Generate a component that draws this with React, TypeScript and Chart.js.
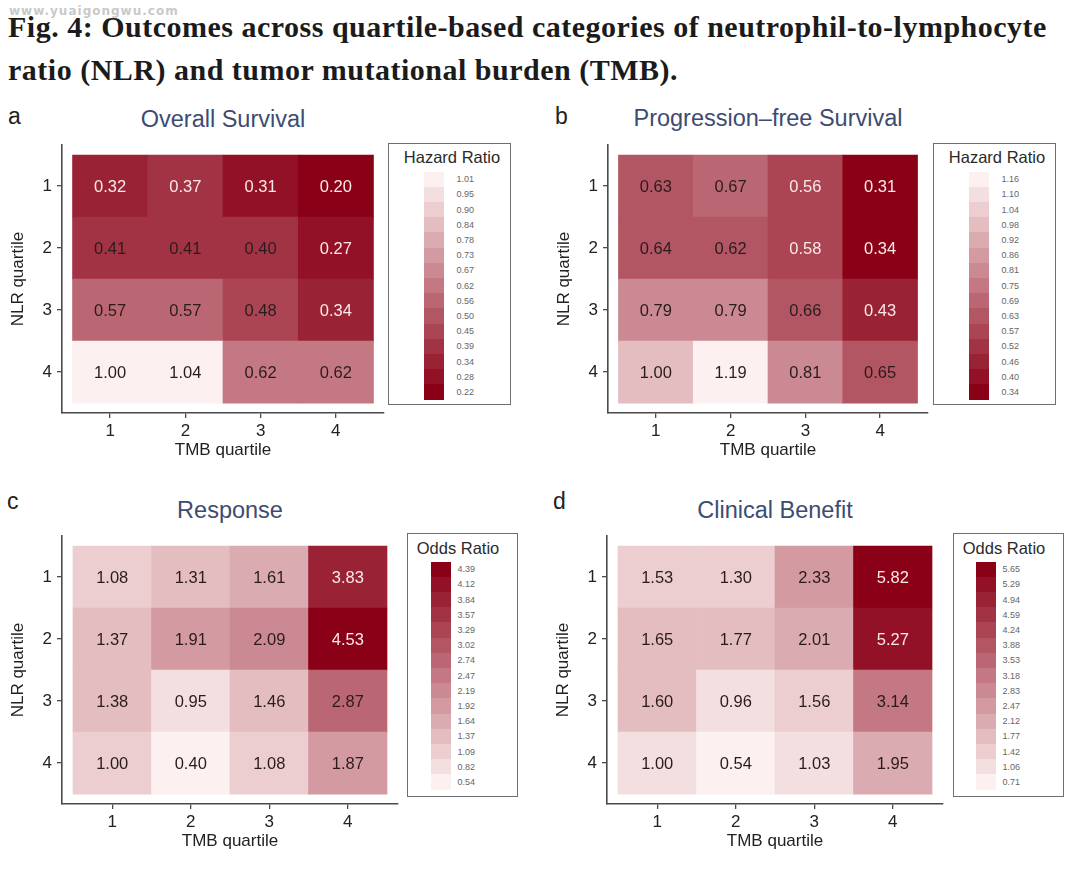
import React, { useEffect, useRef } from "react";
import { Chart, registerables } from "chart.js";

Chart.register(...registerables);

// ---------- data ----------
const TMB_QUARTILES = [1, 2, 3, 4];
const NLR_QUARTILES = [1, 2, 3, 4];

// rows = NLR quartile 1..4, columns = TMB quartile 1..4
const OS_HR = [
  [0.32, 0.37, 0.31, 0.2],
  [0.41, 0.41, 0.4, 0.27],
  [0.57, 0.57, 0.48, 0.34],
  [1.0, 1.04, 0.62, 0.62],
];
const PFS_HR = [
  [0.63, 0.67, 0.56, 0.31],
  [0.64, 0.62, 0.58, 0.34],
  [0.79, 0.79, 0.66, 0.43],
  [1.0, 1.19, 0.81, 0.65],
];
const RESPONSE_OR = [
  [1.08, 1.31, 1.61, 3.83],
  [1.37, 1.91, 2.09, 4.53],
  [1.38, 0.95, 1.46, 2.87],
  [1.0, 0.4, 1.08, 1.87],
];
const BENEFIT_OR = [
  [1.53, 1.3, 2.33, 5.82],
  [1.65, 1.77, 2.01, 5.27],
  [1.6, 0.96, 1.56, 3.14],
  [1.0, 0.54, 1.03, 1.95],
];

const OS_LEGEND = ["1.01", "0.95", "0.90", "0.84", "0.78", "0.73", "0.67", "0.62", "0.56", "0.50", "0.45", "0.39", "0.34", "0.28", "0.22"];
const PFS_LEGEND = ["1.16", "1.10", "1.04", "0.98", "0.92", "0.86", "0.81", "0.75", "0.69", "0.63", "0.57", "0.52", "0.46", "0.40", "0.34"];
const RESPONSE_LEGEND = ["4.39", "4.12", "3.84", "3.57", "3.29", "3.02", "2.74", "2.47", "2.19", "1.92", "1.64", "1.37", "1.09", "0.82", "0.54"];
const BENEFIT_LEGEND = ["5.65", "5.29", "4.94", "4.59", "4.24", "3.88", "3.53", "3.18", "2.83", "2.47", "2.12", "1.77", "1.42", "1.06", "0.71"];

// which cell labels are printed in light text
const OS_LIGHT = [[1, 1, 1, 1], [0, 0, 0, 1], [0, 0, 0, 1], [0, 0, 0, 0]];
const PFS_LIGHT = [[0, 0, 1, 1], [0, 0, 1, 1], [0, 0, 0, 1], [0, 0, 0, 0]];
const RESPONSE_LIGHT = [[0, 0, 0, 1], [0, 0, 0, 1], [0, 0, 0, 0], [0, 0, 0, 0]];
const BENEFIT_LIGHT = [[0, 0, 0, 1], [0, 0, 0, 1], [0, 0, 0, 0], [0, 0, 0, 0]];

// ---------- style ----------
const SANS = "'Liberation Sans', Arial, Helvetica, sans-serif";
const SERIF = "'Liberation Serif', 'DejaVu Serif', serif";
const LIGHT_RGB = [252, 240, 240];
const DARK_RGB = [138, 0, 22];
const N_BINS = 15;

function ramp(t: number) {
  const c = LIGHT_RGB.map((l, i) => Math.round(l + (DARK_RGB[i] - l) * t));
  return `rgb(${c[0]},${c[1]},${c[2]})`;
}

function cellColor(v: number, min: number, max: number, lowIsDark: boolean) {
  const t = lowIsDark ? (max - v) / (max - min) : (v - min) / (max - min);
  const idx = Math.min(N_BINS - 1, Math.floor(t * N_BINS));
  return ramp(idx / (N_BINS - 1));
}

type Panel = {
  letter: string;
  title: string;
  values: number[][];
  light: number[][];
  lowIsDark: boolean;
  legendTitle: string;
  legendLabels: string[];
  plot: { l: number; t: number; r: number; b: number };
  titleX: number;
  titleY: number;
  letterX: number;
  letterTop: number;
  legend: { l: number; t: number; w: number; h: number; titleX: number; titleY: number; barX: number; barTop: number; barH: number; labelX: number };
};

const PANELS: Panel[] = [
  {
    letter: "a", title: "Overall Survival", values: OS_HR, light: OS_LIGHT, lowIsDark: true,
    legendTitle: "Hazard Ratio", legendLabels: OS_LEGEND,
    plot: { l: 62, t: 138, r: 384, b: 413 }, titleX: 223, titleY: 120, letterX: 8, letterTop: 105,
    legend: { l: 388, t: 143, w: 123, h: 262, titleX: 63, titleY: 13, barX: 36, barTop: 29, barH: 228, labelX: 69 },
  },
  {
    letter: "b", title: "Progression\u2013free Survival", values: PFS_HR, light: PFS_LIGHT, lowIsDark: true,
    legendTitle: "Hazard Ratio", legendLabels: PFS_LEGEND,
    plot: { l: 608, t: 138, r: 928, b: 413 }, titleX: 768, titleY: 119, letterX: 555, letterTop: 105,
    legend: { l: 933, t: 143, w: 123, h: 262, titleX: 63, titleY: 13, barX: 36, barTop: 29, barH: 228, labelX: 69 },
  },
  {
    letter: "c", title: "Response", values: RESPONSE_OR, light: RESPONSE_LIGHT, lowIsDark: false,
    legendTitle: "Odds Ratio", legendLabels: RESPONSE_LEGEND,
    plot: { l: 62, t: 529, r: 398, b: 804 }, titleX: 230, titleY: 511, letterX: 7, letterTop: 490,
    legend: { l: 407, t: 533, w: 111, h: 264, titleX: 50, titleY: 14, barX: 24, barTop: 29, barH: 228, labelX: 51 },
  },
  {
    letter: "d", title: "Clinical Benefit", values: BENEFIT_OR, light: BENEFIT_LIGHT, lowIsDark: false,
    legendTitle: "Odds Ratio", legendLabels: BENEFIT_LEGEND,
    plot: { l: 607, t: 529, r: 943, b: 804 }, titleX: 775, titleY: 511, letterX: 553, letterTop: 490,
    legend: { l: 953, t: 533, w: 111, h: 264, titleX: 50, titleY: 14, barX: 23, barTop: 29, barH: 228, labelX: 50 },
  },
];

const PAD_TOP = 8;
const PAD_RIGHT = 6;
const Y_AXIS_W = 62;
const X_AXIS_H = 50;

const Heatmap: React.FC<{ panel: Panel }> = ({ panel }) => {
  const ref = useRef<HTMLCanvasElement | null>(null);
  const { plot } = panel;
  const width = plot.r - plot.l + Y_AXIS_W + PAD_RIGHT;
  const height = plot.b - plot.t + PAD_TOP + X_AXIS_H;

  useEffect(() => {
    if (!ref.current) return;
    const flat = panel.values.flat();
    const min = Math.min(...flat);
    const max = Math.max(...flat);
    const points: { x: number; y: [number, number] }[] = [];
    const colors: string[] = [];
    NLR_QUARTILES.forEach((nlr, r) => {
      TMB_QUARTILES.forEach((tmb, c) => {
        points.push({ x: tmb, y: [nlr - 0.5, nlr + 0.5] });
        colors.push(cellColor(panel.values[r][c], min, max, panel.lowIsDark));
      });
    });

    const valueLabels = {
      id: "valueLabels",
      afterDatasetsDraw(chart: any) {
        const { ctx } = chart;
        const xs = chart.scales.x;
        const ys = chart.scales.y;
        ctx.save();
        ctx.font = `16.5px ${SANS}`;
        ctx.textAlign = "center";
        ctx.textBaseline = "middle";
        NLR_QUARTILES.forEach((nlr, r) => {
          TMB_QUARTILES.forEach((tmb, c) => {
            ctx.fillStyle = panel.light[r][c] ? "#fbe8e8" : "#2a1c1c";
            ctx.fillText(panel.values[r][c].toFixed(2), xs.getPixelForValue(tmb), ys.getPixelForValue(nlr) + 1);
          });
        });
        ctx.restore();
      },
    };

    const axisCommon = (title: string, titlePad: any, tickPad: number) => ({
      type: "linear" as const,
      offset: false,
      beginAtZero: false,
      grid: { display: true, offset: false, drawOnChartArea: false, drawTicks: true, tickLength: 5, color: "#4a4a4a", lineWidth: 1.3 },
      border: { display: true, color: "#4a4a4a", width: 1.6 },
      ticks: { padding: tickPad, color: "#222", font: { family: SANS, size: 17 }, autoSkip: false, maxRotation: 0 },
      title: { display: true, text: title, color: "#222", font: { family: SANS, size: 17 }, padding: titlePad },
    });

    const chart = new Chart(ref.current, {
      type: "bar",
      data: {
        datasets: [
          {
            data: points as any,
            backgroundColor: colors,
            borderColor: colors,
            borderWidth: 0,
            barPercentage: 1,
            categoryPercentage: 1,
          },
        ],
      },
      options: {
        animation: false,
        responsive: false,
        maintainAspectRatio: false,
        devicePixelRatio: 1,
        layout: { padding: { top: PAD_TOP, left: 0, right: PAD_RIGHT, bottom: 0 } },
        plugins: { legend: { display: false }, tooltip: { enabled: false } },
        scales: {
          x: {
            ...axisCommon("TMB quartile", { top: 0, bottom: 2 }, 3),
            min: 0.36,
            max: 4.64,
            afterBuildTicks: (s: any) => {
              s.ticks = TMB_QUARTILES.map((v) => ({ value: v }));
            },
            afterFit: (s: any) => {
              s.height = X_AXIS_H;
            },
          },
          y: {
            ...axisCommon("NLR quartile", { top: 8, bottom: 0 }, 5),
            reverse: true,
            min: 0.34,
            max: 4.66,
            afterBuildTicks: (s: any) => {
              s.ticks = NLR_QUARTILES.map((v) => ({ value: v }));
            },
            afterFit: (s: any) => {
              s.width = Y_AXIS_W;
            },
          },
        } as any,
      },
      plugins: [valueLabels],
    });
    return () => chart.destroy();
  }, [panel]);

  return (
    <canvas
      ref={ref}
      width={width}
      height={height}
      style={{ position: "absolute", left: plot.l - Y_AXIS_W, top: plot.t - PAD_TOP, width, height }}
    />
  );
};

const Legend: React.FC<{ panel: Panel }> = ({ panel }) => {
  const L = panel.legend;
  const n = panel.legendLabels.length;
  const step = L.barH / n;
  return (
    <div
      style={{
        position: "absolute",
        left: L.l,
        top: L.t,
        width: L.w,
        height: L.h,
        border: "1.5px solid #6f6f6f",
        boxSizing: "border-box",
        background: "#fff",
      }}
    >
      <div
        style={{
          position: "absolute",
          left: L.titleX,
          top: L.titleY,
          transform: "translate(-50%,-50%)",
          font: `16.5px ${SANS}`,
          lineHeight: 1,
          color: "#2a2a2a",
          whiteSpace: "nowrap",
        }}
      >
        {panel.legendTitle}
      </div>
      {panel.legendLabels.map((lab, i) => {
        // top label = highest value
        const t = panel.lowIsDark ? i / (n - 1) : 1 - i / (n - 1);
        return (
          <React.Fragment key={lab + i}>
            <div
              style={{
                position: "absolute",
                left: L.barX - 1.5,
                top: L.barTop - 1.5 + i * step,
                width: 20,
                height: step + 0.6,
                background: ramp(t),
              }}
            />
            <div
              style={{
                position: "absolute",
                left: L.labelX - 1.5,
                top: L.barTop - 1.5 + i * step + step / 2,
                transform: "translateY(-50%)",
                font: `9px ${SANS}`,
                lineHeight: 1,
                color: "#666",
              }}
            >
              {lab}
            </div>
          </React.Fragment>
        );
      })}
    </div>
  );
};

const titleStyle: React.CSSProperties = {
  position: "absolute",
  left: 8,
  font: `bold 30px ${SERIF}`,
  letterSpacing: 0.5,
  lineHeight: 1,
  color: "#1b1b1b",
  whiteSpace: "nowrap",
};

export default function App() {
  return (
    <div style={{ position: "absolute", left: 0, top: 0, width: 1080, height: 869, background: "#fff", overflow: "hidden" }}>
      <div
        style={{
          position: "absolute",
          left: 9,
          top: 5,
          font: `bold 12px 'DejaVu Sans', sans-serif`,
          letterSpacing: 1,
          color: "#c9c9c9",
          lineHeight: 1,
        }}
      >
        www.yuaigongwu.com
      </div>
      <div style={{ ...titleStyle, top: 12 }}>
        Fig. 4: Outcomes across quartile-based categories of neutrophil-to-lymphocyte
      </div>
      <div style={{ ...titleStyle, top: 55 }}>ratio (NLR) and tumor mutational burden (TMB).</div>
      {PANELS.map((p) => (
        <React.Fragment key={p.letter}>
          <div
            style={{
              position: "absolute",
              left: p.letterX,
              top: p.letterTop,
              font: `23px ${SANS}`,
              lineHeight: 1,
              color: "#222",
            }}
          >
            {p.letter}
          </div>
          <div
            style={{
              position: "absolute",
              left: p.titleX,
              top: p.titleY,
              transform: "translate(-50%,-50%)",
              font: `23.5px ${SANS}`,
              lineHeight: 1,
              color: "#3d4b72",
              whiteSpace: "nowrap",
            }}
          >
            {p.title}
          </div>
          <Heatmap panel={p} />
          <Legend panel={p} />
        </React.Fragment>
      ))}
    </div>
  );
}
